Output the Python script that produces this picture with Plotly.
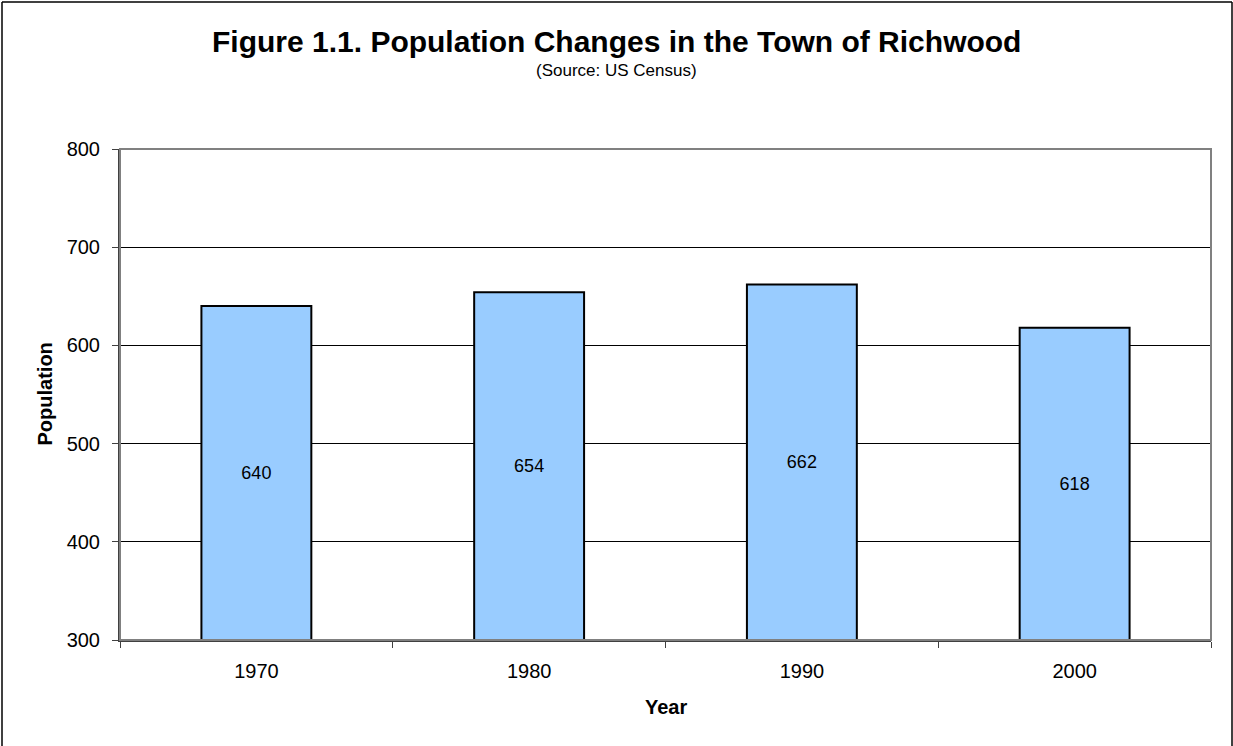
import plotly.graph_objects as go

years = ["1970", "1980", "1990", "2000"]
population = [640, 654, 662, 618]
y_floor = 300
y_ticks = [300, 400, 500, 600, 700, 800]

W, H = 1233, 746
left, right, top, bottom = 120, 1211, 149, 640
pw, ph = right - left, bottom - top
FONT = "Arial, Liberation Sans, sans-serif"

fig = go.Figure()
fig.add_trace(go.Bar(
    x=years,
    y=[v - y_floor for v in population],
    base=[y_floor] * len(population),
    text=[str(v) for v in population],
    textposition="inside",
    insidetextanchor="middle",
    textfont=dict(family=FONT, size=18, color="black"),
    marker=dict(color="#99CCFF", line=dict(color="black", width=2)),
    width=0.403,
    hoverinfo="skip",
))


def px_x(x):
    return (x - left) / pw


def px_y(y):
    return (bottom - y) / ph


# outer chart border (left, top, right)
border = dict(color="black", width=1.5)
fig.add_shape(type="line", xref="paper", yref="paper", x0=px_x(2), x1=px_x(2), y0=px_y(2), y1=px_y(760), line=border)
fig.add_shape(type="line", xref="paper", yref="paper", x0=px_x(2), x1=px_x(1232), y0=px_y(2), y1=px_y(2), line=border)
fig.add_shape(type="line", xref="paper", yref="paper", x0=px_x(1232), x1=px_x(1232), y0=px_y(2), y1=px_y(760), line=border)
# plot area border
fig.add_shape(type="rect", xref="paper", yref="paper", x0=0, x1=1, y0=0, y1=1,
              line=dict(color="#808080", width=2), layer="above")

fig.add_annotation(text="<b>Figure 1.1. Population Changes in the Town of Richwood</b>",
                   xref="paper", yref="paper", x=px_x(616), y=px_y(41), xanchor="center", yanchor="middle",
                   showarrow=False, font=dict(family=FONT, size=30, color="black"))
fig.add_annotation(text="(Source: US Census)", xref="paper", yref="paper", x=px_x(616), y=px_y(70),
                   xanchor="center", yanchor="middle", showarrow=False,
                   font=dict(family=FONT, size=17, color="black"))
fig.add_annotation(text="<b>Population</b>", xref="paper", yref="paper", x=px_x(44), y=0.5, textangle=-90,
                   xanchor="center", yanchor="middle", showarrow=False,
                   font=dict(family=FONT, size=20, color="black"))
fig.add_annotation(text="<b>Year</b>", xref="paper", yref="paper", x=0.5, y=px_y(707),
                   xanchor="center", yanchor="middle", showarrow=False,
                   font=dict(family=FONT, size=20, color="black"))

fig.update_layout(
    width=W, height=H,
    margin=dict(l=left, r=W - right, t=top, b=H - bottom),
    paper_bgcolor="white",
    plot_bgcolor="white",
    showlegend=False,
    font=dict(family=FONT, color="black"),
    xaxis=dict(
        type="category", tickson="boundaries", ticks="outside", ticklen=6, tickcolor="#404040",
        showgrid=False, showline=True, linecolor="#404040", linewidth=2,
        tickfont=dict(size=20), ticklabelstandoff=12,
    ),
    yaxis=dict(
        range=[300, 800], tickvals=y_ticks, ticks="outside", ticklen=6, tickcolor="#404040",
        showgrid=True, gridcolor="black", gridwidth=1, zeroline=False,
        showline=True, linecolor="#404040", linewidth=2,
        tickfont=dict(size=20), ticklabelstandoff=8,
    ),
)

fig.write_html("out.html", config={"displayModeBar": False},
               post_script="document.body.style.margin='0';")
